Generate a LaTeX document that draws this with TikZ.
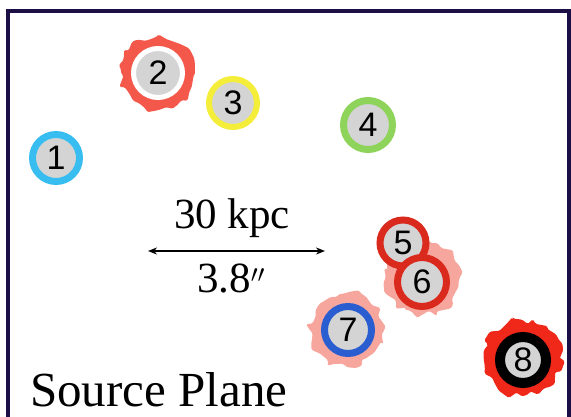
\documentclass[tikz,border=0pt]{standalone}
\usepackage{fontspec}
\setmainfont{Liberation Serif}
\setsansfont{Liberation Sans}
\usetikzlibrary{arrows.meta, decorations.pathmorphing}

\definecolor{framenavy}{HTML}{1C0F45}
\definecolor{srcgray}{HTML}{D4D4D4}
\definecolor{ringcyan}{HTML}{38BDF0}
\definecolor{ringyellow}{HTML}{F4EE3A}
\definecolor{ringgreen}{HTML}{8ED35A}
\definecolor{ringred}{HTML}{DA2A1E}
\definecolor{ringblue}{HTML}{2A5ED0}
\definecolor{splashred}{HTML}{F4584A}
\definecolor{splashpink}{HTML}{F7A69E}
\definecolor{splashhot}{HTML}{F0281A}

\tikzset{
	src/.style={circle, draw=#1, line width=7pt, fill=srcgray, minimum size=47pt,
		inner sep=0pt, font=\sffamily\fontsize{34}{34}\selectfont},
	splash/.style={fill=#1, rounded corners=1.5pt, decorate,
		decoration={random steps, segment length=6pt, amplitude=4pt}},
	frame/.style={draw=framenavy, line width=3.5pt},
}

\begin{document}
\begin{tikzpicture}[x=1pt, y=-1pt]
			\useasboundingbox (0,0) rectangle (571,417);
			\pgfmathsetseed{11}
			
			% frame
			\draw[frame] (8,420) |- (569,11) -- (569,420);
			
			% extended emission
			\begin{scope}
				\fill[splash=splashred] (158,73) circle (37pt);
				\fill[splash=splashpink] (423,277) circle (37pt);
				\fill[splash=splashpink] (347,330) circle (37pt);
				\fill[splash=splashhot] (522,358) circle (38pt);
			\end{scope}
			
			% sources
			\node[src=ringcyan] (s1) at (56,158) {1};
			\node[src=white, line width=5pt, minimum size=49pt] (s2) at (158,73) {2};
			\node[src=ringyellow, line width=6pt, minimum size=48pt] (s3) at (233,103) {3};
			\node[src=ringgreen, minimum size=49pt] (s4) at (368,125) {4};
			\node[src=ringred, minimum size=46pt] (s5) at (403,243) {5};
			\node[src=ringred, minimum size=49pt] (s6) at (422,282) {6};
			\node[src=ringblue] (s7) at (348,330) {7};
			\node[src=black, line width=10pt, minimum size=46pt] (s8) at (523,360) {8};
			
			% scale bar
			\coordinate (barL) at (148,251);
			\coordinate (barR) at (325,251);
			\draw[line width=1.8pt, {Stealth[length=9pt,width=7pt]}-{Stealth[length=9pt,width=7pt]}] (barL) -- (barR);
			\node[font=\fontsize{43}{43}\selectfont, anchor=base] (kpc) at (232,229) {30 kpc};
			\node[font=\fontsize{43}{43}\selectfont, anchor=base] (arcsec) at (231,292) {3.8$''$};
			
			\node[font=\fontsize{49}{49}\selectfont, anchor=base west, inner sep=0pt] (title) at (30,406) {Source Plane};
			
		\end{tikzpicture}
\end{document}
